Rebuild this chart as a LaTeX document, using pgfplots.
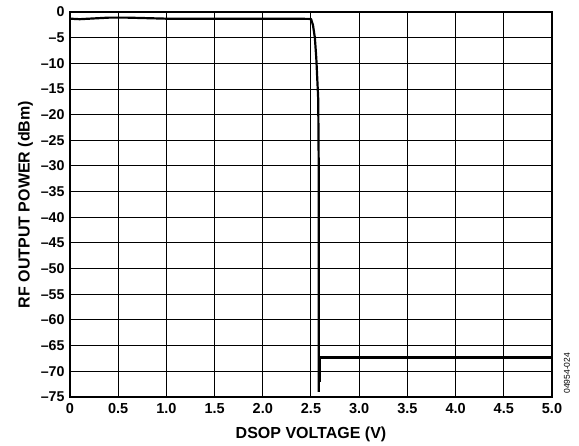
\documentclass[border=0pt]{standalone}
\usepackage{pgfplots}
\pgfplotsset{compat=1.18}
\usepackage{fontspec}
\setmainfont{Liberation Sans}
\begin{document}
\begin{tikzpicture}
\useasboundingbox (-70pt,-49pt) rectangle (509pt,397pt);
\begin{axis}[
  at={(0,0)}, anchor=south west,
  scale only axis, width=482pt, height=385pt,
  xmin=0, xmax=5, ymin=-75, ymax=0,
  xtick={0,0.5,...,5.0},
  xticklabels={0,0.5,1.0,1.5,2.0,2.5,3.0,3.5,4.0,4.5,5.0},
  ytick={0,-5,...,-75},
  yticklabels={0,{\textendash}5,{\textendash}10,{\textendash}15,{\textendash}20,{\textendash}25,{\textendash}30,{\textendash}35,{\textendash}40,{\textendash}45,{\textendash}50,{\textendash}55,{\textendash}60,{\textendash}65,{\textendash}70,{\textendash}75},
  xticklabel style={font=\fontsize{14.5}{16}\selectfont\bfseries, yshift=-3pt},
  yticklabel style={font=\fontsize{14.2}{16}\selectfont\bfseries, xshift=-2pt},
  major tick length=0pt,
  grid=major,
  major grid style={black, line width=1pt},
  axis line style={black, line width=1.8pt},
  xlabel={DSOP VOLTAGE (V)},
  ylabel={RF OUTPUT POWER (dBm)},
  xlabel style={font=\fontsize{16}{18}\selectfont\bfseries, yshift=-6pt},
  ylabel style={font=\fontsize{16}{18}\selectfont\bfseries, yshift=1pt},
  clip=false,
]
\addplot[black, line width=2.2pt, line join=round] coordinates {
(0,-1.3) (0.1,-1.4) (0.2,-1.3) (0.4,-1.1) (0.6,-1.1) (0.8,-1.2) (1.0,-1.3) (1.5,-1.3) (2.0,-1.3) (2.3,-1.3) (2.5,-1.35)
(2.52,-2.5) (2.54,-5) (2.555,-9) (2.565,-13) (2.575,-17) (2.58,-30) (2.58,-74)
};
\addplot[black, line width=2.2pt] coordinates {
(2.59,-72) (2.59,-67.3) (5,-67.3)
};
\node[rotate=90, anchor=west, font=\fontsize{8.5}{10}\selectfont] at ([xshift=15pt]rel axis cs:1,0) {04954-024};
\end{axis}
\end{tikzpicture}
\end{document}
